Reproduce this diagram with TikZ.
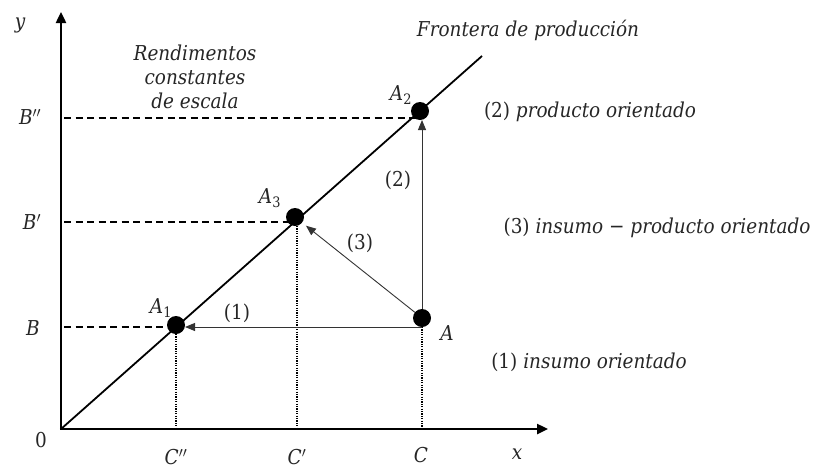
\documentclass[tikz,border=0pt]{standalone}
\usepackage{fontspec}
\setmainfont{DejaVuSerifCondensed}[Extension=.ttf, UprightFont=*, ItalicFont=*-Italic, BoldFont=*-Bold, BoldItalicFont=*-BoldItalic]
\usetikzlibrary{arrows.meta}
\begin{document}
\begin{tikzpicture}[x=1pt,y=-1pt,
  dot/.style={circle, fill=black, inner sep=0pt, outer sep=0pt, minimum size=18pt},
  axisline/.style={line width=2.4pt, -{Triangle[length=11pt,width=10pt]}},
  front/.style={line width=1.8pt},
  guide/.style={line width=1.4pt, dash pattern=on 7pt off 4.5pt},
  dotline/.style={line width=1.2pt, dash pattern=on 1.2pt off 1.2pt},
  arr/.style={line width=0.9pt, draw=black!80, -{Triangle[length=10pt,width=8pt]}},
  lbl/.style={inner sep=0pt, text=black!85, font=\fontsize{20.5}{24}\selectfont},
  ilbl/.style={lbl, font=\fontsize{20.5}{24}\selectfont\itshape}]
\useasboundingbox (0,0) rectangle (814,469);
% axes
\coordinate (O) at (61,429);
\coordinate (ytip) at (61,12);
\coordinate (xtip) at (548,429);
\coordinate (fend) at (482,56);
\draw[axisline] (O) -- (ytip);
\draw[axisline] ([xshift=-1.2pt]O) -- (xtip);
\draw[front] (O) -- (fend);
% points
\node[dot] (A)  at (422,318) {};
\node[dot] (A1) at (176,325) {};
\node[dot] (A3) at (295,217) {};
\node[dot] (A2) at (420,111) {};
% guide coordinates on y axis
\coordinate (B)  at (64,327);
\coordinate (Bp) at (64,222);
\coordinate (Bpp) at (64,118);
\draw[guide] (Bpp) -- (Bpp -| A2);
\draw[guide] (Bp) -- (Bp -| A3);
\draw[guide] (B) -- (B -| A1);
\draw[dotline] (A1) -- (A1 |- O);
\draw[dotline] ([xshift=2pt]A3.south) -- ([xshift=2pt]A3 |- O);
\draw[dotline] (A) -- (A |- O);
% arrows
\draw[arr] (A |- B) -- (A1.east |- B);
\draw[arr] (A) -- (A |- A2.south);
\draw[arr, shorten >=5pt] (A) -- (A3);
% labels
\node[ilbl] (ly) at (20,25) {y};
\node[ilbl] (lx) at (517,454) {x};
\node[lbl]  (l0) at (41,440) {0};
\node[lbl] (lBpp) at (30,117) {\textit{B}$''$};
\node[lbl] (lBp)  at (32,222) {\textit{B}$'$};
\node[ilbl] (lB)   at (33,328) {B};
\node[lbl] (lCpp) at (176,457) {\textit{C}$''$};
\node[lbl] (lCp)  at (297,457) {\textit{C}$'$};
\node[ilbl] (lC)   at (421,455) {C};
\node[lbl] (lA1) at (161,308) {\textit{A}\textsubscript{1}};
\node[lbl] (lA3) at (270,198) {\textit{A}\textsubscript{3}};
\node[lbl] (lA2) at (401,95) {\textit{A}\textsubscript{2}};
\node[ilbl] (lA) at (447,333) {A};
\node[lbl] (n1) at (237,313) {(1)};
\node[lbl] (n2) at (398,180) {(2)};
\node[lbl] (n3) at (360,243) {(3)};
\node[ilbl, align=center] (rend) at (195,77) {Rendimentos\\constantes\\de escala};
\node[ilbl] (front) at (528,30) {Frontera de producción};
\node[lbl] (t2) at (590,112) {(2) \textit{producto orientado}};
\node[lbl] (t3) at (657,228) {(3) \textit{insumo − producto orientado}};
\node[lbl] (t1) at (589,362) {(1) \textit{insumo orientado}};
\end{tikzpicture}
\end{document}
